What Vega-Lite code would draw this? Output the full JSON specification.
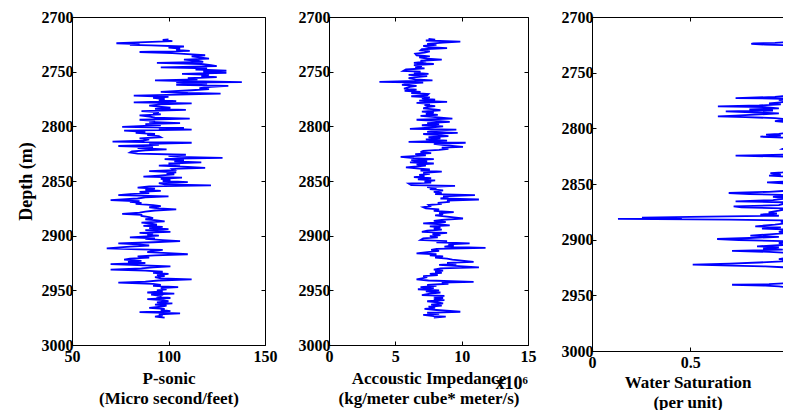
{
  "$schema": "https://vega.github.io/schema/vega-lite/v6.json",
  "background": "white",
  "padding": {"left": 17, "top": 9, "right": 0, "bottom": 0},
  "bounds": "flush",
  "spacing": 64,
  "config": {
    "view": {"stroke": null},
    "axis": {
      "grid": false,
      "labelFont": "Liberation Serif", "labelFontWeight": "bold", "labelFontSize": 16, "labelColor": "black",
      "titleFont": "Liberation Serif", "titleFontWeight": "bold", "titleFontSize": 17, "titleColor": "black",
      "domainColor": "black", "domainWidth": 1, "tickColor": "black", "tickWidth": 1, "tickSize": -4,
      "labelOverlap": false, "labelFlush": false, "labelPadding": 7, "titleLineHeight": 20
    }
  },
  "datasets": {
    "ps": [
      {"d":2720.5,"v":100},{"d":2721,"v":97},{"d":2722,"v":102},{"d":2723,"v":88},{"d":2724,"v":73},{"d":2724.8,"v":85},{"d":2725.5,"v":80},{"d":2726,"v":91},{"d":2727,"v":108},{"d":2728,"v":100},{"d":2729,"v":106},{"d":2730,"v":104},{"d":2731,"v":111},{"d":2732,"v":85},{"d":2733,"v":102},{"d":2734,"v":110},{"d":2735,"v":119},{"d":2736,"v":112},{"d":2737,"v":116},{"d":2738,"v":121},{"d":2739,"v":108},{"d":2740,"v":115},{"d":2741,"v":118},{"d":2742,"v":94},{"d":2743,"v":117},{"d":2744,"v":122},{"d":2745,"v":125},{"d":2746,"v":96},{"d":2747,"v":120},{"d":2748,"v":114},{"d":2749,"v":130},{"d":2750,"v":118},{"d":2751,"v":130},{"d":2752,"v":107},{"d":2753,"v":121},{"d":2754,"v":117},{"d":2755,"v":125},{"d":2756,"v":110},{"d":2757,"v":115},{"d":2758,"v":93},{"d":2759,"v":118},{"d":2759.5,"v":138},{"d":2760,"v":104},{"d":2761,"v":120},{"d":2762,"v":104},{"d":2763,"v":131},{"d":2764,"v":122},{"d":2765,"v":116},{"d":2766,"v":121},{"d":2767,"v":112},{"d":2768.5,"v":96},{"d":2769.5,"v":110},{"d":2770,"v":127},{"d":2771,"v":105},{"d":2772,"v":82},{"d":2773,"v":100},{"d":2774,"v":92},{"d":2775,"v":98},{"d":2776,"v":95},{"d":2777,"v":104},{"d":2778,"v":82},{"d":2779,"v":112},{"d":2780,"v":96},{"d":2781,"v":90},{"d":2782,"v":95},{"d":2783,"v":101},{"d":2784,"v":93},{"d":2785,"v":109},{"d":2786,"v":86},{"d":2787,"v":95},{"d":2788,"v":92},{"d":2789,"v":96},{"d":2790,"v":85},{"d":2791,"v":90},{"d":2792,"v":93},{"d":2793,"v":111},{"d":2794,"v":85},{"d":2795,"v":93},{"d":2796,"v":90},{"d":2797,"v":106},{"d":2798,"v":88},{"d":2799,"v":96},{"d":2800.5,"v":76},{"d":2801.5,"v":108},{"d":2802,"v":95},{"d":2803,"v":112},{"d":2804,"v":77},{"d":2805,"v":88},{"d":2806,"v":83},{"d":2807,"v":93},{"d":2808,"v":89},{"d":2809,"v":95},{"d":2810,"v":96},{"d":2811,"v":85},{"d":2812,"v":90},{"d":2813,"v":87},{"d":2814,"v":71},{"d":2815,"v":112},{"d":2816,"v":90},{"d":2817,"v":95},{"d":2818,"v":74},{"d":2819,"v":92},{"d":2820,"v":84},{"d":2821,"v":99},{"d":2822,"v":88},{"d":2823,"v":81},{"d":2824,"v":80},{"d":2825,"v":84},{"d":2826,"v":109},{"d":2827,"v":100},{"d":2828,"v":105},{"d":2828.8,"v":128},{"d":2829.5,"v":105},{"d":2830,"v":98},{"d":2831,"v":108},{"d":2832,"v":103},{"d":2833,"v":117},{"d":2834,"v":100},{"d":2835,"v":106},{"d":2836,"v":95},{"d":2837,"v":110},{"d":2838,"v":119},{"d":2839,"v":102},{"d":2840,"v":103},{"d":2841,"v":90},{"d":2842,"v":104},{"d":2843,"v":99},{"d":2844,"v":103},{"d":2845,"v":95},{"d":2846,"v":87},{"d":2847,"v":107},{"d":2848,"v":96},{"d":2849,"v":101},{"d":2850,"v":97},{"d":2851,"v":110},{"d":2852,"v":95},{"d":2853,"v":98},{"d":2854,"v":122},{"d":2855,"v":90},{"d":2856,"v":84},{"d":2857,"v":93},{"d":2858,"v":88},{"d":2859,"v":96},{"d":2860,"v":85},{"d":2861,"v":90},{"d":2862,"v":80},{"d":2863,"v":74},{"d":2864,"v":100},{"d":2865,"v":88},{"d":2866,"v":84},{"d":2867.5,"v":70},{"d":2868.5,"v":85},{"d":2869,"v":80},{"d":2870,"v":86},{"d":2871,"v":83},{"d":2872,"v":92},{"d":2873,"v":96},{"d":2874,"v":90},{"d":2875,"v":95},{"d":2876,"v":104},{"d":2877,"v":93},{"d":2878,"v":88},{"d":2879,"v":85},{"d":2880,"v":76},{"d":2881,"v":86},{"d":2882,"v":86},{"d":2883,"v":90},{"d":2884,"v":92},{"d":2885,"v":88},{"d":2886,"v":94},{"d":2887,"v":98},{"d":2888,"v":86},{"d":2889,"v":91},{"d":2890,"v":94},{"d":2891,"v":87},{"d":2892,"v":97},{"d":2893,"v":90},{"d":2894,"v":100},{"d":2895,"v":88},{"d":2896.5,"v":101},{"d":2897.5,"v":85},{"d":2898,"v":92},{"d":2899,"v":89},{"d":2900,"v":95},{"d":2901.5,"v":80},{"d":2902.5,"v":93},{"d":2903,"v":88},{"d":2904,"v":97},{"d":2905,"v":106},{"d":2906,"v":92},{"d":2907,"v":74},{"d":2908,"v":84},{"d":2909,"v":90},{"d":2910,"v":80},{"d":2911.7,"v":68},{"d":2912.5,"v":85},{"d":2913,"v":97},{"d":2914,"v":92},{"d":2915,"v":89},{"d":2916,"v":100},{"d":2917,"v":110},{"d":2918,"v":93},{"d":2919,"v":84},{"d":2920,"v":90},{"d":2921,"v":80},{"d":2922,"v":77},{"d":2923,"v":86},{"d":2924,"v":79},{"d":2925,"v":88},{"d":2926,"v":70},{"d":2927,"v":84},{"d":2928,"v":101},{"d":2929,"v":92},{"d":2930,"v":86},{"d":2931,"v":70},{"d":2932,"v":88},{"d":2933,"v":97},{"d":2934,"v":92},{"d":2935,"v":100},{"d":2936,"v":94},{"d":2937,"v":98},{"d":2938,"v":93},{"d":2939,"v":96},{"d":2940,"v":112},{"d":2941,"v":95},{"d":2942,"v":88},{"d":2943,"v":74},{"d":2944,"v":92},{"d":2945,"v":96},{"d":2946,"v":92},{"d":2947,"v":105},{"d":2948,"v":96},{"d":2949,"v":99},{"d":2950,"v":94},{"d":2951,"v":97},{"d":2952,"v":89},{"d":2953,"v":103},{"d":2954,"v":91},{"d":2955,"v":96},{"d":2956,"v":95},{"d":2957,"v":101},{"d":2958,"v":89},{"d":2959,"v":97},{"d":2960,"v":100},{"d":2961,"v":94},{"d":2962,"v":102},{"d":2963,"v":93},{"d":2964,"v":99},{"d":2965,"v":96},{"d":2966,"v":90},{"d":2967,"v":98},{"d":2968,"v":96},{"d":2969,"v":101},{"d":2970,"v":85},{"d":2971,"v":106},{"d":2972,"v":95},{"d":2973,"v":97},{"d":2974,"v":93},{"d":2975,"v":98}
    ],
    "ai": [
      {"d":2720,"v":7.5},{"d":2720.8,"v":8.0},{"d":2721.5,"v":7.3},{"d":2722.5,"v":9.9},{"d":2723.5,"v":8.6},{"d":2724.5,"v":7.4},{"d":2725.5,"v":8.1},{"d":2726.5,"v":7.1},{"d":2727.5,"v":7.5},{"d":2728.5,"v":8.9},{"d":2729.5,"v":7.0},{"d":2730.5,"v":6.9},{"d":2731.5,"v":7.6},{"d":2732.5,"v":7.2},{"d":2733.5,"v":6.5},{"d":2735,"v":6.6},{"d":2736,"v":7.6},{"d":2737,"v":6.8},{"d":2738,"v":7.4},{"d":2739,"v":8.5},{"d":2740,"v":6.9},{"d":2741,"v":7.1},{"d":2742,"v":6.4},{"d":2743,"v":7.9},{"d":2744,"v":6.4},{"d":2745,"v":7.0},{"d":2746,"v":6.5},{"d":2747,"v":7.2},{"d":2748,"v":5.8},{"d":2749.3,"v":5.6},{"d":2750,"v":6.9},{"d":2751,"v":6.4},{"d":2752,"v":7.5},{"d":2753,"v":6.0},{"d":2754,"v":7.4},{"d":2755,"v":6.6},{"d":2756,"v":6.0},{"d":2757,"v":6.5},{"d":2758,"v":7.8},{"d":2759.4,"v":3.8},{"d":2760,"v":7.1},{"d":2761,"v":6.0},{"d":2762,"v":5.5},{"d":2763,"v":6.6},{"d":2764,"v":6.1},{"d":2765.5,"v":5.65},{"d":2766.5,"v":6.6},{"d":2767.5,"v":5.7},{"d":2768.5,"v":6.9},{"d":2769.5,"v":6.2},{"d":2770.5,"v":7.5},{"d":2771.6,"v":7.4},{"d":2772.5,"v":6.2},{"d":2773.5,"v":7.6},{"d":2774.5,"v":7.0},{"d":2775.5,"v":8.0},{"d":2776.5,"v":6.8},{"d":2777.7,"v":8.9},{"d":2778.5,"v":6.6},{"d":2779.5,"v":7.6},{"d":2780.5,"v":7.2},{"d":2781.5,"v":8.0},{"d":2782.5,"v":7.4},{"d":2783.5,"v":7.1},{"d":2784.5,"v":7.9},{"d":2785.3,"v":8.4},{"d":2786.5,"v":7.0},{"d":2787.5,"v":7.9},{"d":2788.5,"v":7.3},{"d":2789.5,"v":8.2},{"d":2790.5,"v":6.9},{"d":2791.5,"v":8.0},{"d":2792.9,"v":9.3},{"d":2794,"v":6.6},{"d":2795,"v":8.1},{"d":2796,"v":9.1},{"d":2797,"v":7.4},{"d":2798,"v":8.3},{"d":2799,"v":7.0},{"d":2800,"v":8.6},{"d":2801,"v":7.8},{"d":2802.3,"v":6.1},{"d":2803,"v":9.6},{"d":2804,"v":8.1},{"d":2805,"v":7.4},{"d":2806,"v":9.7},{"d":2807,"v":7.1},{"d":2808,"v":8.3},{"d":2809,"v":9.0},{"d":2810,"v":7.5},{"d":2811,"v":8.4},{"d":2812,"v":7.3},{"d":2813,"v":8.9},{"d":2814.2,"v":6.0},{"d":2815,"v":10.3},{"d":2816,"v":7.9},{"d":2817,"v":8.5},{"d":2818.8,"v":10.1},{"d":2819.5,"v":8.5},{"d":2820.5,"v":9.0},{"d":2821.5,"v":8.3},{"d":2822.5,"v":7.1},{"d":2823.5,"v":6.9},{"d":2824.5,"v":7.7},{"d":2825.5,"v":6.5},{"d":2826.5,"v":7.3},{"d":2828,"v":5.4},{"d":2829,"v":6.4},{"d":2830,"v":7.9},{"d":2831,"v":6.2},{"d":2832,"v":7.4},{"d":2833,"v":6.1},{"d":2834,"v":7.9},{"d":2835,"v":6.6},{"d":2836,"v":7.3},{"d":2837.6,"v":5.8},{"d":2838.5,"v":6.6},{"d":2839.5,"v":7.6},{"d":2840.5,"v":6.9},{"d":2841.5,"v":8.5},{"d":2842.5,"v":7.1},{"d":2843.5,"v":7.6},{"d":2844.5,"v":6.8},{"d":2845.5,"v":7.2},{"d":2846.5,"v":6.4},{"d":2847.5,"v":7.7},{"d":2848.5,"v":6.7},{"d":2849.5,"v":8.0},{"d":2850.5,"v":7.2},{"d":2851.5,"v":7.7},{"d":2852.3,"v":6.0},{"d":2853.8,"v":6.2},{"d":2854.5,"v":9.5},{"d":2855.5,"v":7.4},{"d":2856.5,"v":8.1},{"d":2857.5,"v":7.6},{"d":2858.5,"v":8.6},{"d":2860,"v":7.9},{"d":2861,"v":8.5},{"d":2862,"v":8.0},{"d":2863,"v":11.0},{"d":2864,"v":8.6},{"d":2865,"v":9.0},{"d":2866,"v":8.4},{"d":2866.9,"v":11.3},{"d":2868,"v":8.9},{"d":2869,"v":9.1},{"d":2870,"v":8.2},{"d":2871,"v":8.5},{"d":2872,"v":7.5},{"d":2873,"v":7.6},{"d":2874,"v":7.1},{"d":2875,"v":7.3},{"d":2876,"v":8.3},{"d":2877.3,"v":7.9},{"d":2878.5,"v":9.4},{"d":2879.5,"v":8.3},{"d":2880.5,"v":8.6},{"d":2881.5,"v":8.0},{"d":2882.5,"v":8.9},{"d":2884.3,"v":10.1},{"d":2885.5,"v":8.5},{"d":2886.5,"v":7.9},{"d":2887.5,"v":8.8},{"d":2888.8,"v":7.1},{"d":2889.5,"v":8.2},{"d":2890.5,"v":9.1},{"d":2891.5,"v":7.6},{"d":2892.5,"v":8.4},{"d":2893.5,"v":7.9},{"d":2894.5,"v":8.5},{"d":2895.5,"v":7.4},{"d":2896.5,"v":7.0},{"d":2897.5,"v":8.9},{"d":2898.5,"v":7.8},{"d":2899.5,"v":8.4},{"d":2900.5,"v":7.6},{"d":2901.5,"v":8.2},{"d":2902.5,"v":7.1},{"d":2904,"v":6.9},{"d":2905,"v":8.9},{"d":2906,"v":8.1},{"d":2907,"v":10.6},{"d":2908,"v":9.0},{"d":2909,"v":9.4},{"d":2910,"v":8.7},{"d":2911.1,"v":11.8},{"d":2912,"v":8.1},{"d":2913,"v":7.7},{"d":2914,"v":8.3},{"d":2915,"v":7.4},{"d":2916.2,"v":6.6},{"d":2917,"v":8.1},{"d":2918,"v":7.6},{"d":2919,"v":8.6},{"d":2920,"v":8.0},{"d":2921,"v":8.9},{"d":2922,"v":9.3},{"d":2923.9,"v":10.9},{"d":2924.8,"v":8.9},{"d":2925.8,"v":9.6},{"d":2926.8,"v":8.3},{"d":2927.8,"v":9.8},{"d":2929,"v":11.3},{"d":2930,"v":8.4},{"d":2931,"v":7.9},{"d":2932,"v":8.6},{"d":2933,"v":8.0},{"d":2934,"v":8.5},{"d":2935,"v":7.6},{"d":2936,"v":8.2},{"d":2937,"v":7.1},{"d":2938,"v":7.4},{"d":2939,"v":7.0},{"d":2940,"v":6.6},{"d":2941,"v":7.5},{"d":2942.2,"v":10.9},{"d":2943,"v":8.5},{"d":2944,"v":9.0},{"d":2945,"v":7.4},{"d":2946,"v":8.1},{"d":2947,"v":6.9},{"d":2948,"v":7.9},{"d":2949,"v":6.7},{"d":2950,"v":8.3},{"d":2951,"v":7.3},{"d":2952,"v":8.4},{"d":2953,"v":7.6},{"d":2954.3,"v":7.0},{"d":2955,"v":8.7},{"d":2956,"v":7.9},{"d":2957,"v":8.6},{"d":2958,"v":7.9},{"d":2959,"v":8.7},{"d":2960,"v":7.4},{"d":2961,"v":8.2},{"d":2962,"v":8.6},{"d":2963,"v":7.7},{"d":2964,"v":8.5},{"d":2965,"v":7.5},{"d":2966,"v":8.0},{"d":2967,"v":7.2},{"d":2968,"v":8.1},{"d":2969.6,"v":9.9},{"d":2970.5,"v":7.4},{"d":2971.5,"v":8.3},{"d":2972.5,"v":7.1},{"d":2973.5,"v":7.9},{"d":2974.1,"v":8.8},{"d":2975,"v":7.9}
    ],
    "sw": [
      {"d":2720,"v":1.0},{"d":2722.5,"v":1.0},{"d":2723.2,"v":0.93},{"d":2723.6,"v":0.82},{"d":2724.2,"v":0.81},{"d":2724.8,"v":0.88},{"d":2725.5,"v":1.0},{"d":2770,"v":1.0},{"d":2771.2,"v":0.97},{"d":2771.8,"v":0.93},{"d":2772.8,"v":0.73},{"d":2773.5,"v":1.0},{"d":2774.5,"v":0.95},{"d":2776,"v":1.0},{"d":2777.5,"v":0.9},{"d":2778.5,"v":0.96},{"d":2779.5,"v":0.85},{"d":2780.3,"v":0.64},{"d":2781,"v":0.88},{"d":2782,"v":0.95},{"d":2783,"v":0.8},{"d":2784,"v":0.92},{"d":2784.8,"v":0.68},{"d":2785.5,"v":0.78},{"d":2786.5,"v":0.95},{"d":2787.5,"v":0.85},{"d":2788.5,"v":0.73},{"d":2789.3,"v":0.64},{"d":2790,"v":0.78},{"d":2790.8,"v":0.93},{"d":2792,"v":1.0},{"d":2793.5,"v":0.93},{"d":2794.5,"v":1.0},{"d":2804,"v":1.0},{"d":2805,"v":0.95},{"d":2805.7,"v":0.885},{"d":2806.5,"v":0.96},{"d":2807.5,"v":0.856},{"d":2808.5,"v":1.0},{"d":2816,"v":1.0},{"d":2818.6,"v":0.966},{"d":2819.5,"v":1.0},{"d":2823.5,"v":1.0},{"d":2824.6,"v":0.73},{"d":2825.5,"v":1.0},{"d":2838,"v":1.0},{"d":2839.5,"v":0.97},{"d":2840.3,"v":0.907},{"d":2841.5,"v":0.96},{"d":2842.5,"v":0.9},{"d":2843.5,"v":1.0},{"d":2847.5,"v":1.0},{"d":2848.6,"v":0.89},{"d":2849.5,"v":0.97},{"d":2850.5,"v":1.0},{"d":2856,"v":1.0},{"d":2857,"v":0.9},{"d":2858.1,"v":0.695},{"d":2859,"v":0.8},{"d":2860,"v":1.0},{"d":2861.5,"v":0.92},{"d":2862.5,"v":1.0},{"d":2864.5,"v":0.92},{"d":2865.6,"v":0.73},{"d":2866.5,"v":1.0},{"d":2869,"v":0.95},{"d":2870.1,"v":0.72},{"d":2871,"v":0.76},{"d":2872,"v":1.0},{"d":2874,"v":0.95},{"d":2875.5,"v":0.898},{"d":2876.5,"v":0.94},{"d":2877.5,"v":0.856},{"d":2878.5,"v":0.95},{"d":2879.5,"v":0.5},{"d":2880.2,"v":0.254},{"d":2880.8,"v":0.457},{"d":2881.4,"v":0.132},{"d":2882,"v":0.7},{"d":2882.8,"v":1.0},{"d":2884,"v":0.96},{"d":2885,"v":1.0},{"d":2886.5,"v":0.93},{"d":2888,"v":0.83},{"d":2889,"v":0.96},{"d":2890,"v":0.864},{"d":2891,"v":1.0},{"d":2893,"v":0.95},{"d":2894,"v":1.0},{"d":2896.4,"v":0.805},{"d":2897.5,"v":0.95},{"d":2898.5,"v":0.8},{"d":2899.4,"v":0.636},{"d":2900.3,"v":0.746},{"d":2901.5,"v":1.0},{"d":2903,"v":0.95},{"d":2904.5,"v":1.0},{"d":2906,"v":0.839},{"d":2907,"v":0.95},{"d":2908,"v":0.87},{"d":2909,"v":0.97},{"d":2910,"v":0.712},{"d":2911,"v":0.9},{"d":2912,"v":1.0},{"d":2916,"v":1.0},{"d":2917.5,"v":0.95},{"d":2918.5,"v":1.0},{"d":2919.5,"v":0.966},{"d":2920.5,"v":0.85},{"d":2921.5,"v":0.7},{"d":2922.5,"v":0.512},{"d":2923.3,"v":0.712},{"d":2924,"v":0.88},{"d":2925,"v":1.0},{"d":2939,"v":1.0},{"d":2940,"v":0.9},{"d":2940.5,"v":0.712},{"d":2941.3,"v":0.881},{"d":2942,"v":0.95},{"d":2943,"v":1.0},{"d":2975,"v":1.0}
    ]
  },
  "hconcat": [
    {
      "width": 193, "height": 328,
      "data": {"name": "ps"},
      "layer": [
        {
          "mark": {"type": "line", "clip": true, "color": "#0000ff", "strokeWidth": 1.8},
          "encoding": {
            "x": {"field": "v", "type": "quantitative", "scale": {"domain": [50, 150], "nice": false, "zero": false},
                  "axis": {"values": [50, 100, 150], "title": ["P-sonic", "(Micro second/feet)"], "titlePadding": 6}},
            "y": {"field": "d", "type": "quantitative", "scale": {"domain": [2700, 3000], "reverse": true, "nice": false, "zero": false},
                  "axis": {"values": [2700, 2750, 2800, 2850, 2900, 2950, 3000], "format": "d", "title": "Depth (m)", "labelPadding": 3, "titlePadding": 6, "titleFontSize": 18}},
            "order": {"field": "d", "type": "quantitative"}
          }
        },
        {
          "mark": {"type": "line", "clip": true, "strokeOpacity": 0},
          "encoding": {
            "x": {"field": "v", "type": "quantitative", "axis": {"orient": "top", "values": [50, 100, 150], "labels": false, "title": null}},
            "y": {"field": "d", "type": "quantitative", "axis": {"orient": "right", "values": [2700, 2750, 2800, 2850, 2900, 2950, 3000], "labels": false, "title": null}},
            "order": {"field": "d", "type": "quantitative"}
          }
        }
      ],
      "resolve": {"axis": {"x": "independent", "y": "independent"}}
    },
    {
      "width": 199, "height": 328,
      "data": {"name": "ai"},
      "layer": [
        {
          "mark": {"type": "line", "clip": true, "color": "#0000ff", "strokeWidth": 1.8},
          "encoding": {
            "x": {"field": "v", "type": "quantitative", "scale": {"domain": [0, 15], "nice": false, "zero": false},
                  "axis": {"values": [0, 5, 10, 15], "title": ["Accoustic Impedance", "(kg/meter cube* meter/s)"], "titlePadding": 6}},
            "y": {"field": "d", "type": "quantitative", "scale": {"domain": [2700, 3000], "reverse": true, "nice": false, "zero": false},
                  "axis": {"values": [2700, 2750, 2800, 2850, 2900, 2950, 3000], "format": "d", "title": null, "labelPadding": 3}},
            "order": {"field": "d", "type": "quantitative"}
          }
        },
        {
          "mark": {"type": "line", "clip": true, "strokeOpacity": 0},
          "encoding": {
            "x": {"field": "v", "type": "quantitative", "axis": {"orient": "top", "values": [0, 5, 10, 15], "labels": false, "title": null}},
            "y": {"field": "d", "type": "quantitative", "axis": {"orient": "right", "values": [2700, 2750, 2800, 2850, 2900, 2950, 3000], "labels": false, "title": null}},
            "order": {"field": "d", "type": "quantitative"}
          }
        },
        {
          "data": {"values": [{"t": "x10⁶"}]},
          "mark": {"type": "text", "align": "right", "baseline": "alphabetic", "dy": 44, "dx": 0, "font": "Liberation Serif", "fontWeight": "bold", "fontSize": 18, "color": "black"},
          "encoding": {
            "x": {"datum": 15, "type": "quantitative", "axis": null},
            "y": {"datum": 3000, "type": "quantitative", "axis": null},
            "text": {"field": "t"}
          }
        }
      ],
      "resolve": {"axis": {"x": "independent", "y": "independent"}}
    },
    {
      "width": 191, "height": 334,
      "data": {"name": "sw"},
      "layer": [
        {
          "mark": {"type": "line", "clip": true, "color": "#0000ff", "strokeWidth": 1.8},
          "encoding": {
            "x": {"field": "v", "type": "quantitative", "scale": {"domain": [0, 0.971], "nice": false, "zero": false},
                  "axis": {"values": [0, 0.5], "format": "~g", "title": ["Water Saturation", "(per unit)"], "titlePadding": 4}},
            "y": {"field": "d", "type": "quantitative", "scale": {"domain": [2700, 3000], "reverse": true, "nice": false, "zero": false},
                  "axis": {"values": [2700, 2750, 2800, 2850, 2900, 2950, 3000], "format": "d", "title": null, "labelPadding": 3}},
            "order": {"field": "d", "type": "quantitative"}
          }
        },
        {
          "mark": {"type": "line", "clip": true, "strokeOpacity": 0},
          "encoding": {
            "x": {"field": "v", "type": "quantitative", "axis": {"orient": "top", "values": [0, 0.5], "labels": false, "title": null}},
            "y": {"field": "d", "type": "quantitative", "axis": null},
            "order": {"field": "d", "type": "quantitative"}
          }
        }
      ],
      "resolve": {"axis": {"x": "independent", "y": "independent"}}
    }
  ]
}
